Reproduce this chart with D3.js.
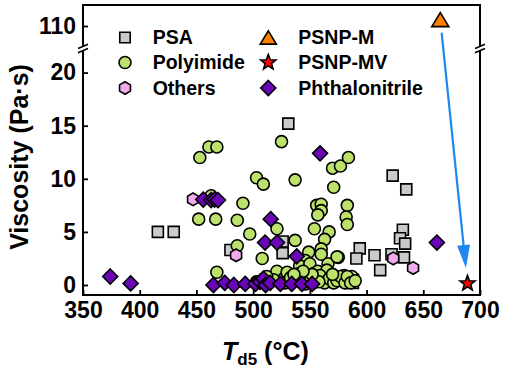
<!DOCTYPE html>
<html><head><meta charset="utf-8">
<script src="https://cdn.jsdelivr.net/npm/d3@7"></script>
<style>
body{margin:0;background:#fff}
text{font-family:"Liberation Sans",Arial,Helvetica,sans-serif;font-weight:bold;fill:#000}
</style>
</head><body>
<svg id="c" width="515" height="378"></svg>
<script>
// ---------- data ----------
const xTicks = [350,400,450,500,550,600,650,700];
const yTicksLower = [0,5,10,15,20];
const yTicksUpper = [110];

const psa = [[416,5.0],[430,5.0],[531,15.2],[526,4.1],[526,3.0],[480,3.3],
  [594,3.45],[591,2.5],[607,2.8],[612,1.4],[623,10.3],[635,9.0],[622,2.9],
  [632,5.2],[629.5,4.4],[634,3.9],[633,2.6],[588,0.2],[588,0.5]];

const polyimide = [[453,12.0],[461,13.0],[468,13.0],[525,13.5],[503,10.1],[509,9.5],[537,9.9],
  [570,11.0],[577,11.2],[584,12.0],[571,9.2],[463,8.4],
  [452,6.2],[467,6.2],[486,6.1],[491,7.7],[497,4.8],[486,3.7],[508,2.5],[521,5.3],[537,4.2],
  [468,1.2],[521,1.3],[554,5.3],[556,7.5],[560,7.6],[560,7.0],[557,6.6],[567,5.0],[563,4.3],
  [560,3.4],[560,2.9],[575,2.6],[566,2.0],[583,7.5],[582,6.4],[583,5.7],[549,3.1],[546,2.3],
  [541,1.8],[550,2.0],[574,2.65],
  [575,0.7],[562,0.4],[585,0.3],[588,0.6],[532,0.9],[541,1.1],[554,1.1],[561,0.5],[572,0.6],
  [584,0.5],[587,0.8],[545,0.6],[549,0.8],[538,0.5],[527,0.6],[530,1.2],[557,1.3],[566,0.9],
  [569,0.3],[578,0.4],[580,0.9],[553,0.2],[546,0.1],[535,0.3],[556,0.7],[565,1.4],[540,0.9],
  [518,0.5],[512,0.8],[503,0.3],
  [528,0.2],[533,0.7],[543,0.4],[548,0.3],[551,0.6],[559,0.9],[563,0.2],[567,0.6],[571,0.2],
  [574,0.4],[577,0.8],[581,0.2],[583,0.8],[586,0.2],[590,0.4],[558,0.3],[552,1.0],[544,1.3],
  [536,1.0],[570,1.0]];

const others = [[447,8.07],[485,2.8],[623.5,2.5],[641,1.6]];

const phthalonitrile = [[374,0.8],[392,0.15],[456,8.05],[463,8.0],[466,8.05],[469,8.0],
  [559,12.4],[515.5,6.2],[510.5,4.0],[521,4.0],[538.4,2.7],[662,4.0],
  [465,0.0],[475,0.2],[483,0.0],[493,0.1],[502,0.1],[506,0.3],[509,0.6],[511,0.0],[515,0.2],
  [524,0.1],[534,0.1],[543,0.1],[552,0.1]];

const psnpM = [[665,110.6]];
const psnpMV = [[689,0.15]];

const legendNames = ["PSA","Polyimide","Others","PSNP-M","PSNP-MV","Phthalonitrile"];

// ---------- scales ----------
const svg = d3.select("#c");
const L = 83, R = 480, T = 5, B = 295, BRK = 48.5;
const x = d3.scaleLinear().domain([350,700]).range([L,R]);
const yLo = d3.scaleLinear().domain([0,20]).range([285,72.6]);
const yHi = d3.scaleLinear().domain([110,112]).range([26,4.76]);
const yOf = v => v > 50 ? yHi(v) : yLo(v);

// ---------- symbols (size = radius) ----------
const sym = {
  square:{draw(c,r){c.rect(-r,-r,2*r,2*r);}},
  circle:{draw(c,r){c.moveTo(r,0);c.arc(0,0,r,0,2*Math.PI);}},
  hexagon:{draw(c,r){for(let i=0;i<6;i++){const a=Math.PI/2+i*Math.PI/3;const px=r*Math.cos(a),py=r*Math.sin(a);i?c.lineTo(px,py):c.moveTo(px,py);}c.closePath();}},
  diamond:{draw(c,r){c.moveTo(0,-r);c.lineTo(r,0);c.lineTo(0,r);c.lineTo(-r,0);c.closePath();}},
  triangle:{draw(c,r){c.moveTo(0,-r*0.82);c.lineTo(r,r*0.82);c.lineTo(-r,r*0.82);c.closePath();}},
  star:{draw(c,r){for(let i=0;i<10;i++){const rr=i%2?r*0.42:r;const a=-Math.PI/2+i*Math.PI/5;const px=rr*Math.cos(a),py=rr*Math.sin(a);i?c.lineTo(px,py):c.moveTo(px,py);}c.closePath();}}
};
const styles = {
  PSA:{type:sym.square,r:5.5,fill:"#c8cacc"},
  Polyimide:{type:sym.circle,r:6,fill:"#bde26c"},
  Others:{type:sym.hexagon,r:6.3,fill:"#f2aaee"},
  Phthalonitrile:{type:sym.diamond,r:7.5,fill:"#6a06b8"},
  "PSNP-M":{type:sym.triangle,r:8.5,fill:"#ff7f00"},
  "PSNP-MV":{type:sym.star,r:8,fill:"#ff0000"}
};
const path = name => d3.symbol().type(styles[name].type).size(styles[name].r)();

function plot(data,name){
  const st = styles[name];
  svg.append("g").selectAll("path").data(data).join("path")
    .attr("d", path(name))
    .attr("transform", d=>`translate(${x(d[0])},${yOf(d[1])})`)
    .attr("fill", st.fill).attr("stroke","#000").attr("stroke-width",1.6);
}

// ---------- data marks ----------
plot(psa,"PSA");
plot(polyimide,"Polyimide");
plot(others,"Others");
plot(phthalonitrile,"Phthalonitrile");

// arrow from PSNP-M to PSNP-MV
{
  const x0 = x(psnpM[0][0]), y0 = yOf(psnpM[0][1]);
  const x1 = x(psnpMV[0][0]), y1 = yOf(psnpMV[0][1]);
  const len = Math.hypot(x1-x0,y1-y0), ux=(x1-x0)/len, uy=(y1-y0)/len;
  const sx = x0+ux*13, sy = y0+uy*13;
  const tx = x0+ux*(len-15.5), ty = y0+uy*(len-15.5);
  const hl = 23, hw = 6.5;
  const bx = tx-ux*hl, by = ty-uy*hl;
  svg.append("line").attr("x1",sx).attr("y1",sy).attr("x2",bx+ux*2).attr("y2",by+uy*2)
    .attr("stroke","#1e88f0").attr("stroke-width",2.2);
  svg.append("path").attr("d",`M${tx},${ty}L${bx-uy*hw},${by+ux*hw}L${bx+uy*hw},${by-ux*hw}Z`)
    .attr("fill","#1e88f0");
}
plot(psnpM,"PSNP-M");
plot(psnpMV,"PSNP-MV");

// ---------- axes ----------
const fs = 23;
const gx = svg.append("g").attr("transform",`translate(0,${B})`)
  .call(d3.axisBottom(x).tickValues(xTicks).tickSize(-5).tickPadding(7).tickFormat(d3.format("d")));
const gyL = svg.append("g").attr("transform",`translate(${L},0)`)
  .call(d3.axisLeft(yLo).tickValues(yTicksLower).tickSize(-5).tickPadding(7).tickFormat(d3.format("d")));
const gyH = svg.append("g").attr("transform",`translate(${L},0)`)
  .call(d3.axisLeft(yHi).tickValues(yTicksUpper).tickSize(-5).tickPadding(7).tickFormat(d3.format("d")));
[gx,gyL,gyH].forEach(g=>{
  g.select(".domain").remove();
  g.selectAll(".tick line").attr("stroke","#000").attr("stroke-width",1.8);
  g.selectAll(".tick text").attr("font-size",fs).attr("font-family",null).style("font-family",'"Liberation Sans",Arial,sans-serif').style("font-weight","bold");
});

// frame with axis break
const fr = svg.append("g").attr("stroke","#000").attr("stroke-width",2).attr("fill","none");
fr.append("line").attr("x1",L).attr("x2",R).attr("y1",T).attr("y2",T);
fr.append("line").attr("x1",L).attr("x2",R).attr("y1",B).attr("y2",B);
[L,R].forEach(xx=>{
  fr.append("line").attr("x1",xx).attr("x2",xx).attr("y1",T-1).attr("y2",BRK-2.2);
  fr.append("line").attr("x1",xx).attr("x2",xx).attr("y1",BRK+2.2).attr("y2",B+1);
  [-2.1,2.1].forEach(o=>{
    fr.append("line").attr("x1",xx-5).attr("x2",xx+5).attr("y1",BRK+o+2.2).attr("y2",BRK+o-2.2)
      .attr("stroke-width",1.6);
  });
});

// ---------- titles ----------
svg.append("text").attr("transform","translate(28,157) rotate(-90)")
  .attr("text-anchor","middle").attr("font-size",25).text("Viscosity (Pa·s)");
const xt = svg.append("text").attr("x",222).attr("y",360).attr("font-size",25);
xt.append("tspan").attr("font-style","italic").text("T");
xt.append("tspan").attr("font-size",17).attr("dy",5).text("d5");
xt.append("tspan").attr("dy",-5).text(" (°C)");

// ---------- legend ----------
const colX = [[125,152.7],[268.3,298.3]];
const rowY = [37.5,62.5,88];
legendNames.forEach((n,i)=>{
  const c = Math.floor(i/3), r = i%3;
  const st = styles[n];
  const scale = n==="PSA"?0.95:(n==="PSNP-M"?0.95:1);
  svg.append("path").attr("d", d3.symbol().type(st.type).size(st.r*scale)())
    .attr("transform",`translate(${colX[c][0]},${rowY[r]})`)
    .attr("fill",st.fill).attr("stroke","#000").attr("stroke-width",1.6);
  svg.append("text").attr("x",colX[c][1]).attr("y",rowY[r]+6.8).attr("font-size",19.5).text(n);
});
</script>
</body></html>
